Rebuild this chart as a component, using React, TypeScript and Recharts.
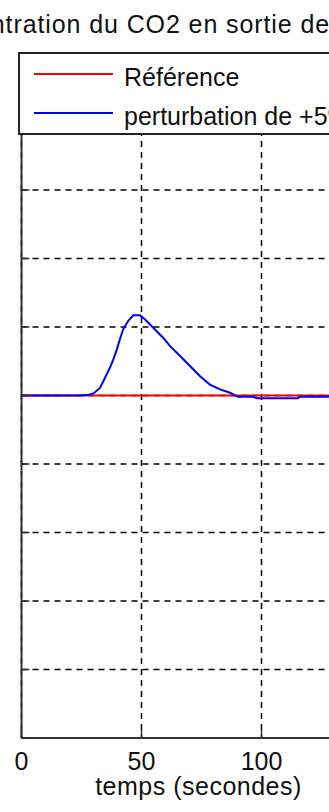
import React from "react";
import { LineChart, Line, XAxis, YAxis, CartesianGrid, Legend } from "recharts";

// temps (s) / écart de concentration (unités de grille)
const refTime = [0, 150];
const refValue = [0, 0];

const pertTime = [
  0, 24, 28, 30, 32.7, 34.8, 36.9, 38.3, 39.7, 41, 42.4, 44.5, 46.6, 49.4, 51.5,
  54.9, 59.1, 61.9, 66, 70.2, 74.4, 78.5, 82.7, 86.9, 90.2, 96.5, 98.1, 115.2,
  116, 150,
];
const pertValue = [
  0, 0, 0.01, 0.03, 0.11, 0.26, 0.41, 0.53, 0.67, 0.82, 0.97, 1.09, 1.17, 1.17,
  1.11, 0.99, 0.84, 0.72, 0.58, 0.43, 0.28, 0.16, 0.09, 0.04, -0.02, -0.02,
  -0.04, -0.04, -0.02, -0.02,
];

const xTicks = [0, 50, 100];
const yTicks = [-5, -4, -3, -2, -1, 0, 1, 2, 3, 4, 5];

const titleText = "Concentration du CO2 en sortie de";
const xLabel = "temps (secondes)";
const refName = "Référence";
const pertName = "perturbation de +5%";

const refData = refTime.map((t, i) => ({ t, v: refValue[i] }));
const pertData = pertTime.map((t, i) => ({ t, v: pertValue[i] }));

const FONT = '"Liberation Sans", Arial, sans-serif';

const LegendBox = (props: any) => {
  const payload = props.payload || [];
  return (
    <div
      style={{
        width: 420,
        height: 83,
        boxSizing: "border-box",
        border: "2px solid #222",
        background: "#fff",
        fontFamily: FONT,
        fontSize: 25,
        color: "#111",
      }}
    >
      {payload.map((entry: any) => (
        <div
          key={entry.value}
          style={{
            height: 39,
            display: "flex",
            alignItems: "center",
            paddingLeft: 14,
            whiteSpace: "nowrap",
          }}
        >
          <span
            style={{
              display: "inline-block",
              width: 79,
              height: 2,
              background: entry.color,
              marginRight: 11,
            }}
          />
          <span style={{ lineHeight: "30px", position: "relative", top: 3 }}>
            {entry.value}
          </span>
        </div>
      ))}
    </div>
  );
};

export default function App() {
  return (
    <div
      style={{
        position: "fixed",
        left: 0,
        top: 0,
        width: 329,
        height: 812,
        overflow: "hidden",
        background: "#fff",
        fontFamily: FONT,
      }}
    >
      <div
        style={{
          position: "absolute",
          left: -86,
          top: 9,
          fontSize: 25,
          lineHeight: "30px",
          letterSpacing: 0.9,
          whiteSpace: "nowrap",
          color: "#111",
        }}
      >
        {titleText}
      </div>
      <LineChart
        width={420}
        height={812}
        margin={{ top: 53, right: 38.5, left: 0, bottom: 0 }}
      >
        <CartesianGrid stroke="#000" strokeDasharray="6 5" strokeWidth={1.5} />
        <XAxis
          type="number"
          dataKey="t"
          domain={[0, 150]}
          ticks={xTicks}
          height={74}
          tickSize={-8}
          tickMargin={22}
          stroke="#333"
          axisLine={{ stroke: "#333", strokeWidth: 2 }}
          tickLine={{ stroke: "#333", strokeWidth: 1.5 }}
          tick={{ fill: "#111", fontSize: 25, fontFamily: FONT }}
          label={{
            value: xLabel,
            position: "insideBottom",
            offset: 17,
            dx: -3,
            fill: "#111",
            fontSize: 25,
            fontFamily: FONT,
            style: { letterSpacing: 0.5 },
          }}
        />
        <YAxis
          type="number"
          dataKey="v"
          domain={[-5, 5]}
          ticks={yTicks}
          width={21.5}
          tickSize={-8}
          tickFormatter={() => ""}
          axisLine={{ stroke: "#333", strokeWidth: 2 }}
          tickLine={{ stroke: "#333", strokeWidth: 1.5 }}
        />
        <Legend
          layout="vertical"
          verticalAlign="middle"
          align="center"
          wrapperStyle={{ left: 18, top: 52, width: 420 }}
          content={<LegendBox />}
        />
        <Line
          data={refData}
          dataKey="v"
          name={refName}
          type="linear"
          stroke="#ff0000"
          strokeWidth={2}
          dot={false}
          isAnimationActive={false}
        />
        <Line
          data={pertData}
          dataKey="v"
          name={pertName}
          type="linear"
          stroke="#0000ff"
          strokeWidth={2}
          dot={false}
          isAnimationActive={false}
        />
      </LineChart>
    </div>
  );
}
